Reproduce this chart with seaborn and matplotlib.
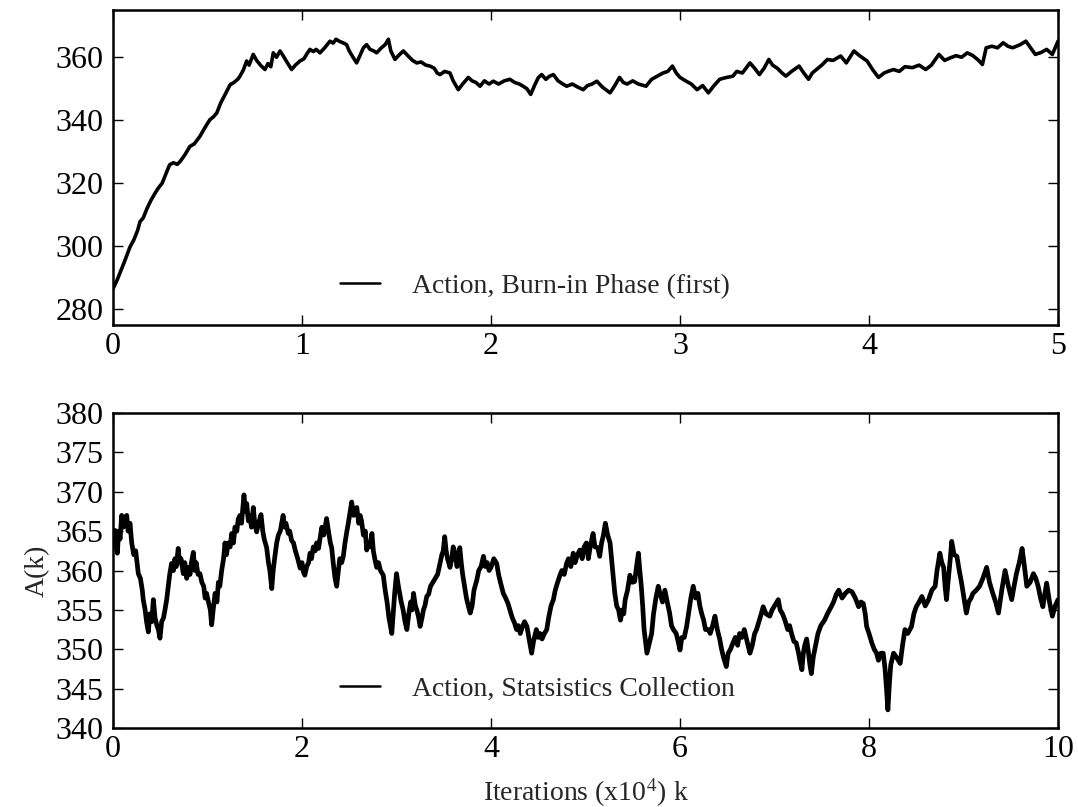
import matplotlib
matplotlib.use("Agg")
import matplotlib.pyplot as plt
import seaborn as sns
import pandas as pd

# ---- Burn-in phase (top panel) ----
burn_iter = [0.00, 0.02, 0.04, 0.06, 0.09, 0.11, 0.13, 0.143, 0.16, 0.18, 0.20, 0.222, 0.24, 0.26, 0.28, 0.30,
             0.32, 0.34, 0.355, 0.38, 0.407, 0.43, 0.46, 0.48, 0.50, 0.513, 0.53, 0.549, 0.57, 0.60, 0.62, 0.64,
             0.66, 0.672, 0.69, 0.707, 0.72, 0.742, 0.76, 0.78, 0.804, 0.82, 0.835, 0.848, 0.865, 0.884, 0.90,
             0.92, 0.945, 0.965, 0.989, 1.01, 1.025, 1.042, 1.06, 1.075, 1.095, 1.12, 1.148, 1.165, 1.18, 1.20,
             1.22, 1.236, 1.25, 1.27, 1.289, 1.31, 1.325, 1.342, 1.36, 1.38, 1.395, 1.42, 1.44, 1.457, 1.47,
             1.492, 1.51, 1.536, 1.56, 1.585, 1.607, 1.63, 1.655, 1.677, 1.70, 1.715, 1.73, 1.755, 1.783, 1.80,
             1.827, 1.85, 1.88, 1.90, 1.92, 1.942, 1.965, 1.99, 2.012, 2.04, 2.07, 2.10, 2.125, 2.15, 2.17,
             2.19, 2.21, 2.23, 2.25, 2.268, 2.29, 2.31, 2.33, 2.355, 2.38, 2.40, 2.43, 2.46, 2.488, 2.51, 2.535,
             2.56, 2.59, 2.63, 2.655, 2.68, 2.70, 2.72, 2.75, 2.78, 2.82, 2.85, 2.88, 2.91, 2.935, 2.96, 2.98,
             3.00, 3.03, 3.06, 3.09, 3.12, 3.15, 3.18, 3.21, 3.24, 3.28, 3.30, 3.33, 3.37, 3.395, 3.42, 3.445,
             3.47, 3.49, 3.515, 3.54, 3.56, 3.59, 3.63, 3.655, 3.68, 3.70, 3.72, 3.75, 3.78, 3.81, 3.85, 3.88,
             3.92, 3.95, 3.99, 4.02, 4.05, 4.08, 4.10, 4.13, 4.16, 4.19, 4.23, 4.265, 4.30, 4.33, 4.37, 4.40,
             4.43, 4.46, 4.49, 4.52, 4.55, 4.58, 4.60, 4.62, 4.65, 4.68, 4.71, 4.735, 4.76, 4.80, 4.83, 4.855,
             4.88, 4.91, 4.94, 4.97, 4.985, 5.00]
burn_action = [286.5, 289, 292, 295, 299.8, 302, 305, 307.8, 309, 312, 314.5, 316.8, 318.5, 320, 323, 325.9,
               326.5, 326, 326.9, 329, 331.7, 332.5, 334.9, 337, 339, 340.2, 341, 342.3, 345.5, 349, 351.3, 352,
               353, 354, 356, 358.8, 357.5, 360.9, 359, 357.5, 356.1, 358, 357, 361.4, 360, 362, 360.5,
               358.5, 356.1, 357.5, 358.8, 359.5, 361, 362.5, 361.8, 362.5, 361.4, 363, 365.1, 364.5, 365.7, 365,
               364.5, 364, 362, 360, 358.2, 361, 363, 364, 362.5, 362, 361.4, 363, 364, 365.7, 362,
               359.3, 360.5, 362, 360.5, 359, 358.2, 358.5, 357.5, 357.2, 356.5, 355, 354.5, 355.5, 355, 352.5,
               349.7, 351.5, 353.6, 352.5, 352, 350.8, 352.5, 351.5, 352.4, 351.5, 352.5, 353, 352, 351.5, 350.8,
               350, 348.2, 351, 353.5, 354.5, 353, 354, 354.5, 352.5, 351.5, 350.8, 351.5, 350.5, 349.7, 351, 351.5,
               352.4, 350.5, 348.7, 351, 353.6, 352, 351.5, 352.5, 351.5, 350.8, 353, 354, 355, 355.5, 357.2, 355,
               353.6, 352.5, 351.5, 349.7, 351, 348.7, 351, 353, 353.5, 354, 355.5, 355, 358.2, 356.5, 354.5, 356.5,
               359.3, 357.5, 356.5, 355, 354, 355.5, 357.2, 355, 353, 355, 356, 357.5, 359.3, 359, 360.4, 358.2,
               362, 360.5, 358.8, 356, 353.6, 355, 355.5, 356.1, 355.5, 357, 356.7, 357.5, 356.1, 357.5, 360.9, 359,
               359.8, 360.5, 360, 361.4, 360.5, 359, 357.7, 363, 363.5, 363, 364.6, 363.5, 363, 364, 365.1, 363,
               360.9, 361.5, 362.5, 360.9, 363, 365.1]

# ---- Statistics collection (bottom panel) ----
stat_iter = [0.00, 0.02, 0.035, 0.046, 0.06, 0.075, 0.092, 0.11, 0.13, 0.145, 0.16, 0.18, 0.198, 0.22, 0.24,
             0.268, 0.29, 0.31, 0.32, 0.34, 0.355, 0.374, 0.39, 0.41, 0.427, 0.445, 0.465, 0.48, 0.497, 0.515,
             0.535, 0.55, 0.568, 0.585, 0.60, 0.62, 0.64, 0.655, 0.67, 0.69, 0.705, 0.72, 0.744, 0.76, 0.78,
             0.797, 0.815, 0.83, 0.85, 0.865, 0.88, 0.90, 0.92, 0.94, 0.96, 0.975, 0.99, 1.01, 1.03, 1.044,
             1.06, 1.08, 1.10, 1.115, 1.13, 1.15, 1.17, 1.185, 1.20, 1.22, 1.24, 1.256, 1.275, 1.29, 1.31,
             1.325, 1.344, 1.36, 1.375, 1.386, 1.40, 1.415, 1.432, 1.45, 1.465, 1.485, 1.50, 1.52, 1.54, 1.566,
             1.585, 1.60, 1.626, 1.645, 1.66, 1.68, 1.695, 1.71, 1.732, 1.75, 1.77, 1.785, 1.80, 1.815, 1.83,
             1.855, 1.87, 1.89, 1.91, 1.93, 1.955, 1.98, 2.00, 2.015, 2.03, 2.05, 2.07, 2.085, 2.10, 2.12, 2.14,
             2.155, 2.175, 2.19, 2.21, 2.23, 2.245, 2.26, 2.28, 2.30, 2.314, 2.33, 2.35, 2.367, 2.385, 2.40,
             2.42, 2.437, 2.455, 2.475, 2.49, 2.51, 2.526, 2.545, 2.56, 2.58, 2.60, 2.615, 2.63, 2.65, 2.67,
             2.685, 2.70, 2.72, 2.74, 2.755, 2.77, 2.79, 2.81, 2.83, 2.86, 2.88, 2.90, 2.92, 2.935, 2.95, 2.965,
             2.98, 3.00, 3.02, 3.035, 3.05, 3.07, 3.09, 3.11, 3.13, 3.15, 3.165, 3.18, 3.20, 3.215, 3.235, 3.25,
             3.27, 3.285, 3.30, 3.32, 3.34, 3.36, 3.39, 3.41, 3.435, 3.46, 3.48, 3.495, 3.51, 3.525, 3.54, 3.566,
             3.585, 3.60, 3.62, 3.64, 3.655, 3.67, 3.685, 3.70, 3.72, 3.74, 3.76, 3.78, 3.80, 3.82, 3.85, 3.87,
             3.895, 3.92, 3.94, 3.96, 3.98, 4.00, 4.03, 4.06, 4.08, 4.10, 4.13, 4.155, 4.18, 4.20, 4.225, 4.25,
             4.27, 4.29, 4.31, 4.33, 4.355, 4.38, 4.40, 4.415, 4.43, 4.45, 4.48, 4.50, 4.52, 4.54, 4.565, 4.59,
             4.61, 4.635, 4.66, 4.68, 4.705, 4.73, 4.75, 4.775, 4.80, 4.82, 4.845, 4.87, 4.89, 4.915, 4.94,
             4.965, 4.985, 5.01, 5.03, 5.05, 5.08, 5.10, 5.13, 5.15, 5.17, 5.19, 5.21, 5.235, 5.26, 5.28, 5.295,
             5.31, 5.33, 5.35, 5.37, 5.39, 5.405, 5.42, 5.445, 5.47, 5.495, 5.52, 5.54, 5.56, 5.575, 5.59, 5.605,
             5.62, 5.635, 5.65, 5.67, 5.70, 5.72, 5.745, 5.77, 5.79, 5.815, 5.84, 5.865, 5.89, 5.91, 5.93, 5.96,
             5.98, 6.00, 6.02, 6.045, 6.07, 6.09, 6.115, 6.14, 6.165, 6.19, 6.21, 6.23, 6.25, 6.27, 6.30, 6.32,
             6.345, 6.37, 6.395, 6.42, 6.44, 6.46, 6.49, 6.51, 6.535, 6.56, 6.585, 6.61, 6.63, 6.655, 6.68, 6.71,
             6.74, 6.765, 6.79, 6.81, 6.835, 6.86, 6.88, 6.91, 6.95, 6.975, 7.00, 7.04, 7.06, 7.085, 7.11, 7.14,
             7.16, 7.18, 7.205, 7.23, 7.255, 7.27, 7.29, 7.305, 7.32, 7.34, 7.36, 7.375, 7.39, 7.41, 7.435, 7.46,
             7.49, 7.53, 7.56, 7.60, 7.625, 7.655, 7.68, 7.715, 7.75, 7.785, 7.82, 7.855, 7.89, 7.915, 7.94, 7.96,
             7.975, 8.00, 8.03, 8.055, 8.08, 8.10, 8.125, 8.15, 8.17, 8.185, 8.20, 8.215, 8.23, 8.26, 8.29, 8.33,
             8.355, 8.38, 8.41, 8.45, 8.475, 8.50, 8.53, 8.56, 8.595, 8.63, 8.665, 8.70, 8.72, 8.75, 8.77, 8.79,
             8.805, 8.82, 8.84, 8.86, 8.875, 8.90, 8.93, 8.955, 8.98, 9.005, 9.03, 9.055, 9.08, 9.10, 9.135, 9.17,
             9.205, 9.245, 9.275, 9.31, 9.34, 9.37, 9.405, 9.44, 9.475, 9.51, 9.535, 9.56, 9.59, 9.62, 9.645,
             9.67, 9.705, 9.74, 9.765, 9.79, 9.815, 9.84, 9.86, 9.88, 9.91, 9.94, 9.97, 10.0]
stat_action = [364, 365.1, 363, 362.2, 365, 364, 367, 365.5, 366.8, 367, 365, 366, 363.5, 362, 362.5,
               359.6, 359, 357.5, 356.3, 355, 353.5, 352.2, 354.5, 353.5, 356.3, 354, 353, 352.5, 351.4, 353.5,
               354, 355, 356.3, 358, 359.5, 360.9, 360, 361.5, 360.5, 362.8, 361, 361.5, 359.6, 361, 359,
               360.4, 359.5, 361, 362.3, 360, 361, 359.5, 359.6, 358.5, 358, 356.5, 357.1, 356, 355, 353.1,
               355, 357.1, 356, 358.5, 358, 360, 361.5, 363.5, 362, 363.5, 363, 364.7, 363.5, 365.5, 365,
               366.5, 367, 366, 368, 369.6, 367.5, 368.5, 366.3, 367, 365.5, 368, 366, 364.9, 366, 367.1,
               365, 364, 362.9, 361, 360, 357.7, 360, 361.5, 363.5, 364.5, 365, 366, 367, 365.5, 366,
               364.7, 365, 363.8, 363.5, 362.5, 361.5, 360.3, 361, 359.8, 359.4, 360.5, 361, 362.2, 361.5, 363, 362.5,
               363.5, 362.8, 364, 365.5, 364.5, 365.5, 366.6, 365, 363.5, 362.9, 361, 359, 358, 360, 361.5,
               361, 361.8, 363.5, 365, 366, 367.5, 368.7, 367, 367.5, 368, 366, 367, 366.3, 364.5, 365,
               362.6, 363.5, 363, 364.7, 362.5, 361.5, 360.4, 361, 360, 359.4, 357.5, 356, 354, 353, 352, 354.5,
               357, 359.6, 358, 357, 356, 355, 353.5, 352.5, 354.5, 356, 355, 357.1, 355.5, 355, 354, 352.9,
               354, 355, 355.5, 356.7, 357, 358, 358.6, 359, 359.5, 360.9, 362, 362.5, 364.3, 362.5, 361.5, 360.4,
               361.5, 363, 362.2, 360.5, 361.5, 362.9, 361, 359.5, 358, 356.5, 355.5, 354.6, 355.5, 357.5, 358.8, 360,
               360.5, 361.8, 360.5, 361, 360, 360.4, 361.5, 360.9, 359.5, 358.5, 357.1, 356.5, 355.8, 355, 354, 353.3,
               352.5, 353, 352, 352.8, 353.5, 352.9, 351.5, 350.5, 349.5, 351, 352.5, 351.5, 352, 351.3, 352, 352.5,
               354, 355.5, 356.3, 357.5, 358.5, 359.4, 360, 359.5, 360.9, 361.5, 360.5, 362.2, 361, 362, 362.6,
               361.5, 363, 363.5, 361.5, 363, 364.7, 363, 362.9, 361.8, 363.5, 364.5, 366, 364.5, 363.5, 361, 359,
               357.1, 355.5, 355, 353.7, 355, 354.5, 356.3, 357.5, 359.4, 358.5, 358.6, 360.5, 362.2, 360, 358, 355.5,
               352.5, 351, 349.5, 350.5, 352, 354.5, 356.5, 358, 357, 356, 357.5, 356, 354.6, 353, 352.5, 352,
               351, 349.9, 351.5, 351.5, 352.9, 354.5, 356.5, 358, 356.5, 357.1, 355.5, 354.5, 353.7, 352.5, 352.5, 352,
               353, 354.2, 352.5, 351.3, 350, 349, 347.8, 349.5, 350, 350.8, 351.5, 350.5, 352, 351.5, 352.5, 351,
               349.5, 350.5, 352, 352.5, 353.5, 354.5, 355.4, 354.5, 354.2, 355, 355.5, 356.3, 355, 354.5, 353.7, 352.5,
               353, 352, 351, 350.8, 349.5, 348.5, 347.4, 349.5, 350.5, 351.3, 349.5, 348, 346.9, 349, 350.5, 352,
               353, 353.7, 354.5, 355.4, 356, 357, 357.5, 356.5, 357.1, 357.5, 357.3, 356.5, 355.4, 356, 355.8, 354.5,
               352.9, 352, 350.8, 350, 349.5, 348.6, 349.5, 349.5, 347.5, 345, 342.3, 345.5, 348, 349.5, 349, 348.2,
               350.5, 352.5, 352, 352.9, 354.5, 355.4, 356, 356.7, 355.5, 356.3, 357.5, 358, 360, 362.2, 361, 360.4,
               358, 356.3, 359, 361.5, 363.7, 362, 361.8, 360, 358.4, 356.5, 354.6, 356, 356.5, 357.1, 357.5, 358,
               359, 360.4, 358.5, 357.1, 356, 354.6, 357.5, 360, 358, 356.3, 358, 359.6, 361, 362.8, 360.5,
               358, 358.5, 359.6, 359, 358, 356.5, 355.4, 357, 358.4, 356, 354.2, 355.5, 356.3]

burn_ticks_y = [280, 300, 320, 340, 360]
burn_ticks_x = [0, 1, 2, 3, 4, 5]
stat_ticks_y = [340, 345, 350, 355, 360, 365, 370, 375, 380]
stat_ticks_x = [0, 2, 4, 6, 8, 10]

sns.set_style("ticks")
plt.rcParams["font.family"] = ["Liberation Serif", "DejaVu Serif"]
plt.rcParams["mathtext.fontset"] = "stix"

fig = plt.figure(figsize=(10.78, 8.07), dpi=100)
ax1 = fig.add_axes([113 / 1078, 1 - 325 / 807, 945 / 1078, 315 / 807])
ax2 = fig.add_axes([113 / 1078, 1 - 728 / 807, 945 / 1078, 315 / 807])

df1 = pd.DataFrame({"k": burn_iter, "A": burn_action})
df2 = pd.DataFrame({"k": stat_iter, "A": stat_action})

sns.lineplot(data=df1, x="k", y="A", ax=ax1, color="black", lw=2.6, sort=False, estimator=None,
             label="Action, Burn-in Phase (first)")
sns.lineplot(data=df2, x="k", y="A", ax=ax2, color="black", lw=3.4, sort=False, estimator=None,
             label="Action, Statsistics Collection")

ax1.set_xlim(0, 5)
ax1.set_ylim(275, 375)
ax1.set_yticks(burn_ticks_y)
ax1.set_xticks(burn_ticks_x)
ax1.set_xlabel("")
ax1.set_ylabel("")

ax2.set_xlim(0, 10)
ax2.set_ylim(340, 380)
ax2.set_yticks(stat_ticks_y)
ax2.set_xticks(stat_ticks_x)
ax2.set_xlabel(r"Iterations (x10$^{4}$) k", fontsize=20, labelpad=9)
ax2.set_ylabel("A(k)", fontsize=20, labelpad=4)

for ax in (ax1, ax2):
    for s in ax.spines.values():
        s.set_visible(True)
        s.set_linewidth(1.8)
        s.set_color("black")
    ax.tick_params(axis="both", which="major", direction="in", top=True, right=True,
                   length=7, width=1.0, labelsize=23, colors="black")
    ax.tick_params(axis="y", pad=7)
    ax.tick_params(axis="x", pad=5)
    leg = ax.legend(loc="center left", bbox_to_anchor=(0.240, 0.123), frameon=False, fontsize=20,
                    handlelength=1.45, handletextpad=1.15, borderaxespad=0, borderpad=0)
    for h in leg.get_lines():
        h.set_linewidth(1.8)

fig.savefig("out.png", dpi=100)
